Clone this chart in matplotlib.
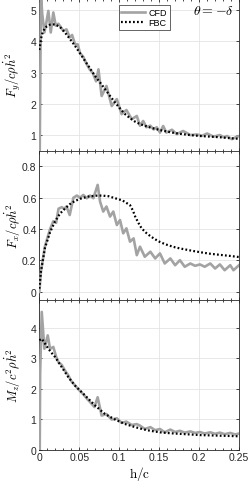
import numpy as np
import matplotlib
matplotlib.use("Agg")
import matplotlib.pyplot as plt
from matplotlib.ticker import MultipleLocator

plt.rcParams['font.family'] = ['Liberation Sans', 'DejaVu Sans']
plt.rcParams['mathtext.fontset'] = 'cm'

# ---- data ----
# F_y panel
fy_fbc_x = [0.0, 0.003, 0.0071, 0.0134, 0.0197, 0.026, 0.032, 0.0384, 0.0447, 0.051, 0.0572, 0.0635,
            0.0697, 0.076, 0.0822, 0.0885, 0.0948, 0.101, 0.1073, 0.1135, 0.1198, 0.126, 0.139,
            0.151, 0.164, 0.176, 0.189, 0.201, 0.214, 0.226, 0.239, 0.25]
fy_fbc_y = [3.72, 4.2, 4.44, 4.53, 4.54, 4.45, 4.28, 4.07, 3.85, 3.61, 3.37, 3.13,
            2.89, 2.68, 2.47, 2.25, 2.04, 1.85, 1.67, 1.54, 1.43, 1.35, 1.24,
            1.16, 1.09, 1.04, 1.0, 0.97, 0.95, 0.93, 0.9, 0.88]
fy_cfd_x = [0.0005, 0.002, 0.0035, 0.0063, 0.0088, 0.0113, 0.0143, 0.0175, 0.0205, 0.0238, 0.027,
            0.030, 0.034, 0.038, 0.041, 0.0447, 0.048, 0.051, 0.055, 0.059, 0.063, 0.067,
            0.071, 0.074, 0.078, 0.084, 0.0906, 0.097, 0.103, 0.109, 0.1157, 0.122, 0.126,
            0.130, 0.134, 0.139, 0.143, 0.147, 0.151, 0.155, 0.159, 0.166, 0.172, 0.18,
            0.189, 0.197, 0.204, 0.21, 0.218, 0.226, 0.231, 0.235, 0.241, 0.246, 0.25]
fy_cfd_y = [0.5, 5.5, 4.9, 4.28, 4.6, 4.97, 4.28, 4.92, 4.5, 4.56, 4.45,
            4.33, 4.38, 4.12, 4.2, 3.9, 3.9, 3.62, 3.5, 3.28, 3.1, 2.98,
            2.72, 3.1, 2.25, 2.57, 1.93, 2.15, 1.67, 1.8, 1.51, 1.61, 1.3,
            1.45, 1.25, 1.3, 1.18, 1.25, 1.08, 1.29, 1.08, 1.17, 1.03, 1.13,
            1.0, 1.02, 0.98, 1.05, 0.95, 1.0, 0.93, 0.97, 0.87, 0.93, 0.97]

# F_x panel
fx_fbc_x = [0.0, 0.002, 0.007, 0.0134, 0.0197, 0.026, 0.032, 0.0384, 0.0447, 0.0531, 0.0613, 0.07,
            0.078, 0.0865, 0.0948, 0.104, 0.1135, 0.117, 0.12, 0.124, 0.128, 0.134, 0.139,
            0.145, 0.151, 0.158, 0.164, 0.17, 0.176, 0.189, 0.201, 0.214, 0.226, 0.239, 0.25]
fx_fbc_y = [0.02, 0.13, 0.28, 0.38, 0.45, 0.5, 0.53, 0.56, 0.58, 0.597, 0.608, 0.613,
            0.614, 0.61, 0.597, 0.583, 0.553, 0.52, 0.48, 0.44, 0.405, 0.375, 0.355,
            0.335, 0.318, 0.303, 0.293, 0.284, 0.277, 0.264, 0.253, 0.243, 0.236, 0.229, 0.222]
fx_cfd_x = [0.0, 0.002, 0.007, 0.0134, 0.0175, 0.021, 0.024, 0.028, 0.031, 0.034, 0.038, 0.0426,
            0.047, 0.051, 0.055, 0.0594, 0.0635, 0.0676, 0.073, 0.076, 0.080, 0.084, 0.0885,
            0.0926, 0.097, 0.101, 0.105, 0.109, 0.1135, 0.118, 0.122, 0.126, 0.132, 0.139,
            0.145, 0.151, 0.157, 0.164, 0.17, 0.176, 0.182, 0.189, 0.195, 0.201, 0.207,
            0.214, 0.22, 0.226, 0.232, 0.239, 0.243, 0.25]
fx_cfd_y = [0.0, 0.13, 0.29, 0.4, 0.45, 0.44, 0.53, 0.54, 0.53, 0.544, 0.49, 0.6,
            0.614, 0.6, 0.618, 0.597, 0.614, 0.597, 0.682, 0.576, 0.512, 0.544, 0.48,
            0.512, 0.426, 0.458, 0.373, 0.405, 0.32, 0.341, 0.234, 0.288, 0.224, 0.256,
            0.213, 0.245, 0.181, 0.213, 0.17, 0.202, 0.16, 0.181, 0.166, 0.175, 0.16,
            0.181, 0.149, 0.175, 0.138, 0.17, 0.138, 0.17]

# M_z panel
mz_fbc_x = [0.0, 0.003, 0.0071, 0.0113, 0.0155, 0.0197, 0.028, 0.0363, 0.0447, 0.0572, 0.0697,
            0.0822, 0.0948, 0.107, 0.12, 0.13, 0.139, 0.151, 0.164, 0.176, 0.189, 0.201,
            0.214, 0.226, 0.239, 0.25]
mz_fbc_y = [3.59, 3.64, 3.48, 3.31, 3.17, 3.04, 2.71, 2.38, 2.1, 1.78, 1.45,
            1.17, 0.99, 0.845, 0.74, 0.67, 0.62, 0.57, 0.54, 0.52, 0.5, 0.48,
            0.47, 0.46, 0.45, 0.44]
mz_cfd_x = [0.0005, 0.001, 0.003, 0.0063, 0.0105, 0.0134, 0.0175, 0.021, 0.024, 0.028, 0.032,
            0.036, 0.04, 0.045, 0.05, 0.055, 0.06, 0.065, 0.069, 0.073, 0.078, 0.084,
            0.0906, 0.097, 0.103, 0.109, 0.1157, 0.122, 0.126, 0.132, 0.139, 0.145, 0.151,
            0.157, 0.164, 0.17, 0.176, 0.182, 0.189, 0.195, 0.201, 0.207, 0.214, 0.22,
            0.226, 0.232, 0.239, 0.245, 0.25]
mz_cfd_y = [0.0, 2.5, 4.52, 3.31, 3.75, 3.31, 3.37, 3.05, 2.87, 2.78, 2.6,
            2.45, 2.25, 2.1, 1.95, 1.82, 1.66, 1.52, 1.4, 1.72, 1.12, 1.17,
            0.99, 1.03, 0.88, 0.92, 0.81, 0.84, 0.79, 0.68, 0.74, 0.64, 0.68,
            0.57, 0.66, 0.58, 0.62, 0.56, 0.6, 0.55, 0.58, 0.53, 0.57, 0.52,
            0.56, 0.51, 0.55, 0.5, 0.53]

ylabels = [r'$F_y/c\rho\dot{h}^2$', r'$F_x/c\rho\dot{h}^2$', r'$M_z/c^2\rho\dot{h}^2$']
ylims = [(0.5, 5.35), (-0.05, 0.9), (0.0, 4.92)]
yticks = [[1, 2, 3, 4, 5], [0, 0.2, 0.4, 0.6, 0.8], [0, 1, 2, 3, 4]]
yticklabels = [['1', '2', '3', '4', '5'], ['0', '0.2', '0.4', '0.6', '0.8'], ['0', '1', '2', '3', '4']]
xticks = [0, 0.05, 0.1, 0.15, 0.2, 0.25]
xticklabels = ['0', '0.05', '0.1', '0.15', '0.2', '0.25']

fig = plt.figure(figsize=(2.49, 4.85), dpi=100)
left, width = 0.158, 0.802
boxes = [(0.6872, 0.3128), (0.3800, 0.3072), (0.0707, 0.3093)]

data = [(fy_cfd_x, fy_cfd_y, fy_fbc_x, fy_fbc_y),
        (fx_cfd_x, fx_cfd_y, fx_fbc_x, fx_fbc_y),
        (mz_cfd_x, mz_cfd_y, mz_fbc_x, mz_fbc_y)]

axes = []
for i, (b, h) in enumerate(boxes):
    ax = fig.add_axes([left, b, width, h])
    cx, cy, fx, fyv = data[i]
    ax.plot(cx, cy, color='#a3a3a3', lw=1.9, label='CFD', zorder=3)
    ax.plot(fx, fyv, color='black', lw=1.6, ls=(0, (0.8, 1.0)), label='FBC', zorder=4)
    ax.set_xlim(0, 0.25)
    ax.set_ylim(*ylims[i])
    ax.set_xticks(xticks)
    ax.xaxis.set_minor_locator(MultipleLocator(0.01))
    ax.set_yticks(yticks[i])
    ax.set_yticklabels(yticklabels[i])
    ax.grid(True, which='major', color='#e4e4e4', lw=0.6, zorder=0)
    ax.tick_params(which='both', direction='in', top=True, right=True,
                   labelsize=7.5, colors='#262626', width=0.6, pad=2)
    ax.tick_params(which='major', length=2.5)
    ax.tick_params(which='minor', length=1.5)
    for s in ax.spines.values():
        s.set_color('#262626')
        s.set_linewidth(0.6)
    ax.set_ylabel(ylabels[i], fontsize=9)
    ax.yaxis.set_label_coords(-0.08, 0.5)
    if i < 2:
        ax.set_xticklabels([])
    else:
        ax.set_xticklabels(xticklabels)
        ax.set_xlabel(r'$\mathrm{h/c}$', fontsize=9.5, labelpad=1)
    axes.append(ax)

leg = axes[0].legend(loc='upper left', bbox_to_anchor=(0.375, 0.99), fontsize=6.5,
                     handlelength=2.6, borderpad=0.3, labelspacing=0.15,
                     handletextpad=0.4, fancybox=False, framealpha=1,
                     edgecolor='#262626')
leg.get_frame().set_linewidth(0.5)
axes[0].text(0.975, 0.975, r'$\theta=-\delta$', transform=axes[0].transAxes,
             ha='right', va='top', fontsize=10)

fig.savefig('out.png', dpi=100)
